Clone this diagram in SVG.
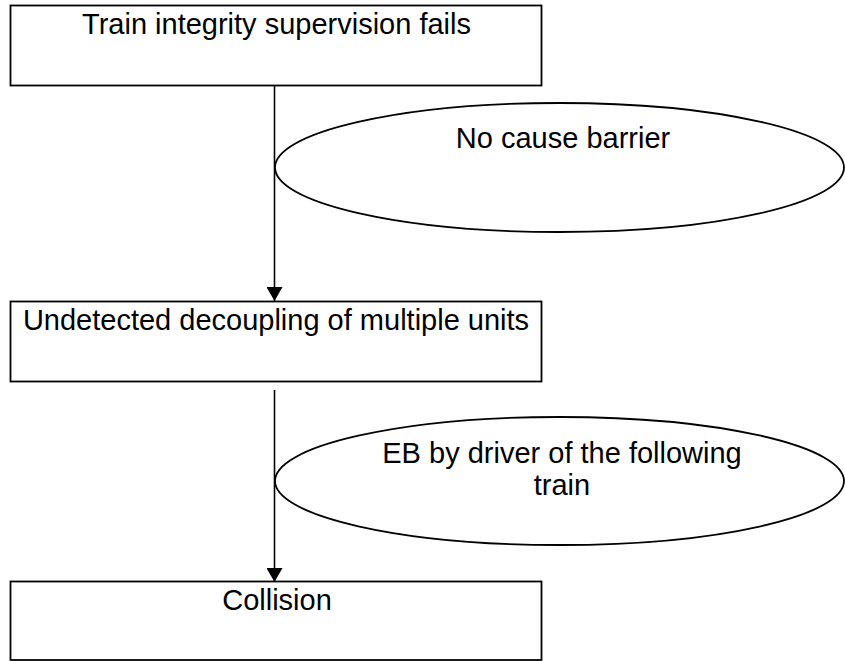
<svg xmlns="http://www.w3.org/2000/svg" width="845" height="661" viewBox="0 0 845 661">
<defs>
<style>
.box{fill:#fff;stroke:#000;stroke-width:1.8}
.ell{fill:#fff;stroke:#000;stroke-width:1.8}
.lbl{font-family:"Liberation Sans",Arial,sans-serif;font-size:29px;fill:#000;text-anchor:middle}
.con{stroke:#000;stroke-width:1.6;fill:none}
</style>
<marker id="ah" markerUnits="userSpaceOnUse" markerWidth="14" markerHeight="16" refX="14" refY="8" orient="auto" viewBox="0 0 14 16">
<path d="M0,0 L14,8 L0,16 z" fill="#000"/>
</marker>
</defs>
<rect width="845" height="661" fill="#fff"/>
<g id="connectors">
<line class="con" x1="274.5" y1="86" x2="274.5" y2="301" marker-end="url(#ah)"/>
<line class="con" x1="274.5" y1="390" x2="274.5" y2="582" marker-end="url(#ah)"/>
</g>
<g id="node-train-integrity">
<rect class="box" x="10.5" y="5.5" width="531" height="80"/>
<text class="lbl" x="276.5" y="34">Train integrity supervision fails</text>
</g>
<g id="barrier-no-cause">
<ellipse class="ell" cx="559.5" cy="167.5" rx="284.5" ry="64.5"/>
<text class="lbl" x="563" y="148">No cause barrier</text>
</g>
<g id="node-undetected-decoupling">
<rect class="box" x="10.5" y="301.5" width="531" height="80"/>
<text class="lbl" x="276" y="330">Undetected decoupling of multiple units</text>
</g>
<g id="barrier-eb-driver">
<ellipse class="ell" cx="559.5" cy="481" rx="284.5" ry="64"/>
<text class="lbl" x="562" y="463">EB by driver of the following</text>
<text class="lbl" x="562" y="495">train</text>
</g>
<g id="node-collision">
<rect class="box" x="10.5" y="581.5" width="531" height="78.5"/>
<text class="lbl" x="277" y="610">Collision</text>
</g>
</svg>
